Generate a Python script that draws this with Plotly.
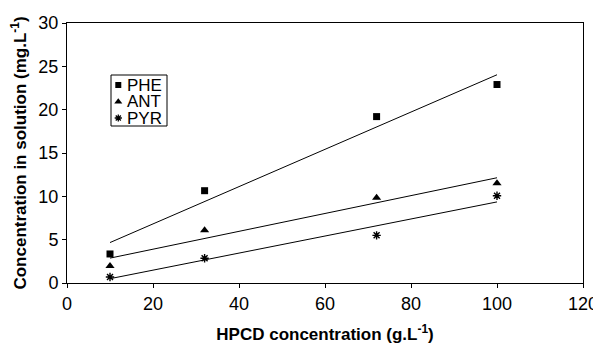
import numpy as np
import plotly.graph_objects as go

hpcd = [10, 32, 72, 100]
phe = [3.35, 10.65, 19.2, 22.9]
ant = [1.96, 6.1, 9.85, 11.5]
pyr = [0.7, 2.85, 5.5, 10.07]

series_names = ["PHE", "ANT", "PYR"]
x_ticks = [0, 20, 40, 60, 80, 100, 120]
y_ticks = [0, 5, 10, 15, 20, 25, 30]

FONT = "Liberation Sans, Arial, Helvetica, sans-serif"

markers = [
    dict(symbol="square", size=7, color="black"),
    dict(symbol="triangle-up", size=8, color="black"),
    dict(symbol="asterisk-open", size=7, color="black", line=dict(color="black", width=1.4)),
]

fig = go.Figure()

for name, ys, mk in zip(series_names, [phe, ant, pyr], markers):
    fig.add_trace(go.Scatter(x=hpcd, y=ys, mode="markers", name=name, marker=mk,
                             showlegend=False))

for ys in [phe, ant, pyr]:
    slope, inter = np.polyfit(hpcd, ys, 1)
    xs = np.array([min(hpcd), max(hpcd)])
    fig.add_trace(go.Scatter(x=xs, y=slope * xs + inter, mode="lines",
                             line=dict(color="black", width=1), showlegend=False,
                             hoverinfo="skip"))

# Compact boxed legend drawn on an invisible overlay axis (0..1 over the plot area)
leg_marker_x = 0.0994
leg_text_x = 0.112
leg_rows_y = [0.7615, 0.6973, 0.6346]
leg_markers = [
    dict(symbol="square", size=6, color="black"),
    dict(symbol="triangle-up", size=7, color="black"),
    dict(symbol="asterisk-open", size=6, color="black", line=dict(color="black", width=1.3)),
]
for name, ry, mk in zip(series_names, leg_rows_y, leg_markers):
    fig.add_trace(go.Scatter(x=[leg_marker_x], y=[ry], mode="markers", marker=mk,
                             xaxis="x2", yaxis="y2", showlegend=False, hoverinfo="skip"))
    fig.add_annotation(x=leg_text_x, y=ry, xref="paper", yref="paper", text=name,
                       showarrow=False, xanchor="left", yanchor="middle",
                       font=dict(size=17, family=FONT, color="black"))

fig.add_shape(type="rect", xref="paper", yref="paper",
              x0=0.0853, x1=0.1938, y0=0.6038, y1=0.8,
              line=dict(color="black", width=1), fillcolor="rgba(0,0,0,0)")

fig.update_layout(
    width=601, height=343,
    margin=dict(l=59, r=26, t=15, b=68),
    plot_bgcolor="white", paper_bgcolor="white",
    font=dict(family=FONT, size=18, color="black"),
    showlegend=False,
    xaxis=dict(range=[0, 120], tickvals=x_ticks, showgrid=False, zeroline=False,
               showline=True, linecolor="black", linewidth=1, mirror=True,
               ticks="outside", ticklen=4, tickcolor="black",
               tickfont=dict(size=18), automargin=False,
               title=dict(text="<b>HPCD concentration (g.L<sup>-1</sup>)</b>",
                          font=dict(size=17))),
    yaxis=dict(range=[0, 30], tickvals=y_ticks, showgrid=False, zeroline=False,
               showline=True, linecolor="black", linewidth=1, mirror=True,
               ticks="outside", ticklen=4, tickcolor="black",
               tickfont=dict(size=18), automargin=False,
               title=dict(text="<b>Concentration in solution (mg.L<sup>-1</sup>)</b>",
                          font=dict(size=17))),
    xaxis2=dict(overlaying="x", range=[0, 1], visible=False),
    yaxis2=dict(overlaying="y", range=[0, 1], visible=False),
)

fig.write_html("out.html")
